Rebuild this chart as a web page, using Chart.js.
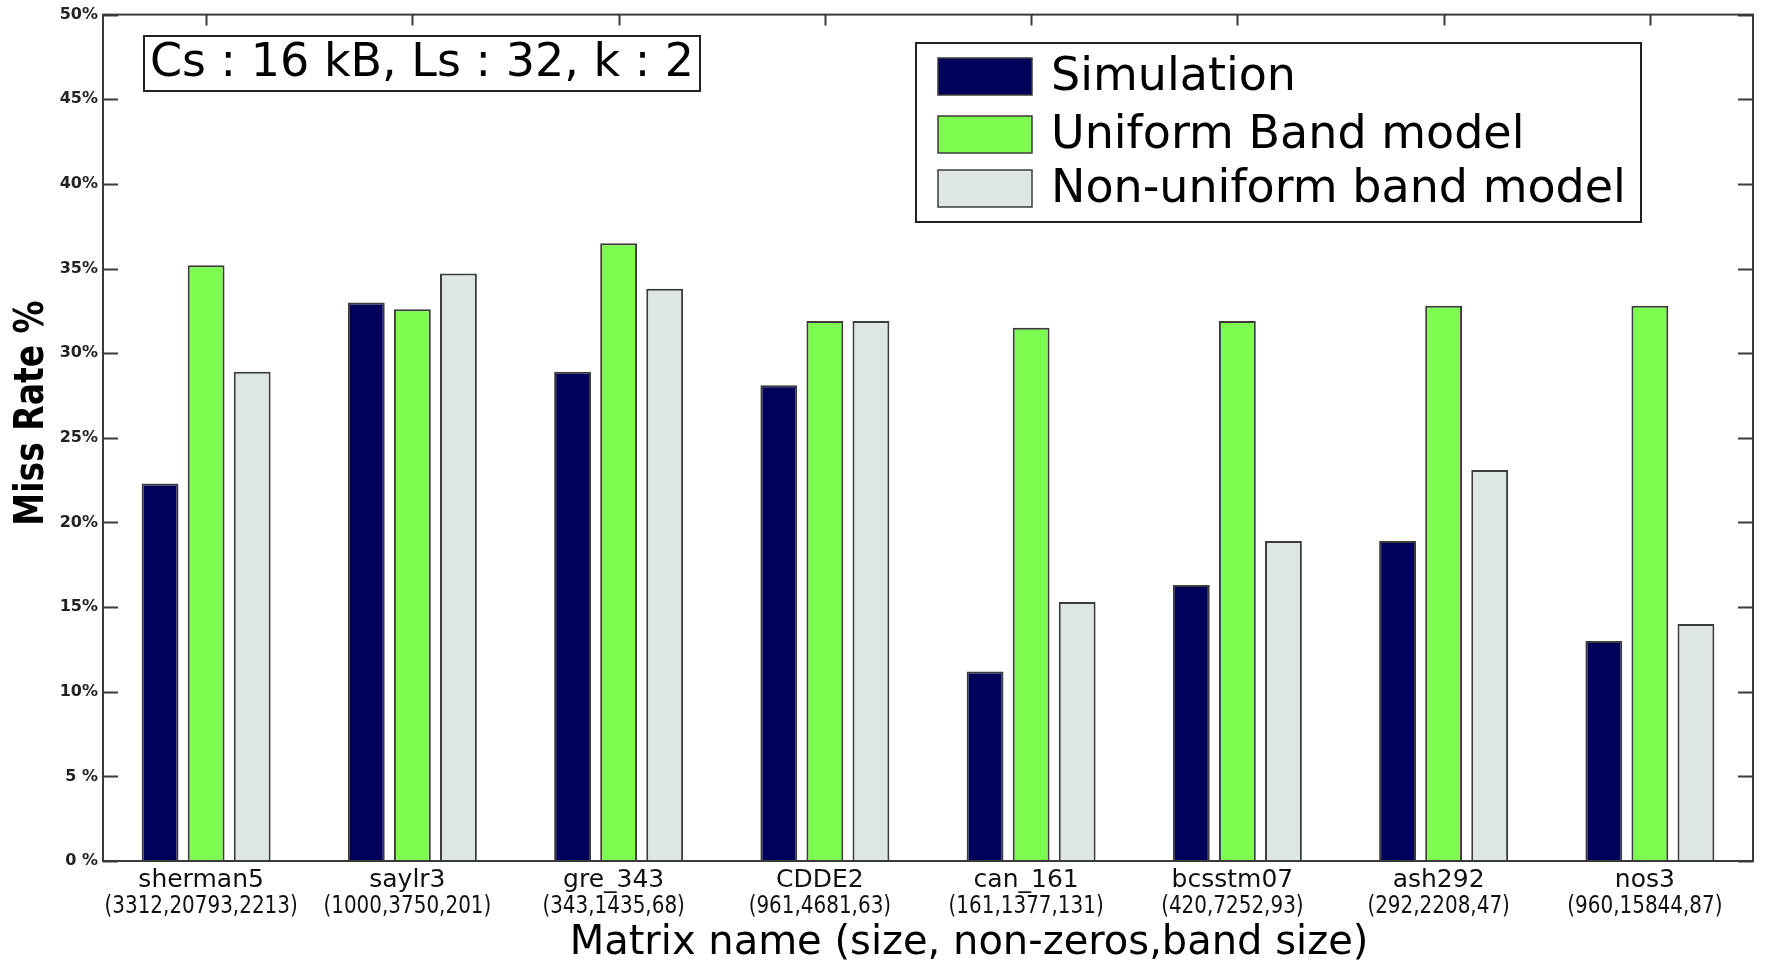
<!DOCTYPE html>
<html>
<head>
<meta charset="utf-8">
<script src="https://cdn.jsdelivr.net/npm/chart.js@4.4.1/dist/chart.umd.min.js"></script>
<style>
  html, body { margin: 0; background: #fff; }
  #wrap { width: 1783px; height: 960px; }
</style>
</head>
<body>
<div id="wrap"><canvas id="c"></canvas></div>
<script>
// values (miss rate, %)
const matrices = ["sherman5", "saylr3", "gre_343", "CDDE2", "can_161", "bcsstm07", "ash292", "nos3"];
const matrixInfo = ["(3312,20793,2213)", "(1000,3750,201)", "(343,1435,68)", "(961,4681,63)",
  "(161,1377,131)", "(420,7252,93)", "(292,2208,47)", "(960,15844,87)"];
const simulation = [22.3, 33.0, 28.9, 28.1, 11.2, 16.3, 18.9, 13.0];
const uniformBand = [35.2, 32.6, 36.5, 31.9, 31.5, 31.9, 32.8, 32.8];
const nonUniformBand = [28.9, 34.7, 33.8, 31.9, 15.3, 18.9, 23.1, 14.0];
const yTickLabels = ["0 %", "5 %", "10%", "15%", "20%", "25%", "30%", "35%", "40%", "45%", "50%"];
const annotationText = "Cs : 16 kB, Ls : 32, k : 2";
const xTitle = "Matrix name (size, non-zeros,band size)";
const yTitle = "Miss Rate %";

const AXIS = "#3a3a3a";
const EDGE = "#3c3c3c";
const FONT = "'DejaVu Sans'";

// frame, inward ticks, axis texts, the parameter box and the legend box (matlab look)
const decor = {
  id: "decor",
  afterDatasetsDraw(chart) {
    const { ctx, chartArea: a, scales } = chart;
    ctx.save();
    ctx.strokeStyle = AXIS;
    ctx.lineWidth = 2;
    ctx.beginPath();
    scales.y.ticks.forEach((t) => {
      const y = Math.round(scales.y.getPixelForValue(t.value)) + 0.5;
      ctx.moveTo(a.left, y); ctx.lineTo(a.left + 15, y);
      ctx.moveTo(a.right, y); ctx.lineTo(a.right - 15, y);
    });
    matrices.forEach((m, i) => {
      const x = Math.round(scales.x.getPixelForValue(i)) + 0.5;
      ctx.moveTo(x, a.top); ctx.lineTo(x, a.top + 11);
    });
    ctx.stroke();
    ctx.strokeRect(a.left, a.top, a.right - a.left, a.bottom - a.top);

    // category labels, two lines each
    ctx.fillStyle = "#111";
    ctx.textAlign = "center";
    ctx.textBaseline = "alphabetic";
    matrices.forEach((m, i) => {
      const x = scales.x.getPixelForValue(i) - 5;
      ctx.font = "25px " + FONT;
      ctx.fillText(m, x, a.bottom + 26);
      ctx.save();
      ctx.translate(x, a.bottom + 52);
      ctx.scale(0.95, 1.18);
      ctx.font = "21px " + FONT;
      ctx.fillText(matrixInfo[i], 0, 0);
      ctx.restore();
    });

    // axis titles
    ctx.fillStyle = "#000";
    ctx.font = "40px " + FONT;
    ctx.fillText(xTitle, 969, 954);
    ctx.save();
    ctx.translate(43, 413);
    ctx.rotate(-Math.PI / 2);
    ctx.scale(0.825, 1);
    ctx.font = "bold 40px " + FONT;
    ctx.fillText(yTitle, 0, 0);
    ctx.restore();

    // parameter box
    ctx.font = "46px " + FONT;
    ctx.textBaseline = "middle";
    ctx.fillStyle = "#fff";
    ctx.fillRect(144, 36, 556, 55);
    ctx.strokeStyle = "#222";
    ctx.strokeRect(144, 36, 556, 55);
    ctx.fillStyle = "#000";
    ctx.fillText(annotationText, 422, 64);

    // legend
    ctx.fillStyle = "#fff";
    ctx.fillRect(916, 43, 725, 179);
    ctx.strokeRect(916, 43, 725, 179);
    ctx.textAlign = "left";
    const rows = [76, 134, 188];
    chart.data.datasets.forEach((ds, i) => {
      ctx.fillStyle = ds.backgroundColor;
      ctx.fillRect(938, rows[i] - 18, 94, 37);
      ctx.lineWidth = 1.5;
      ctx.strokeStyle = EDGE;
      ctx.strokeRect(938, rows[i] - 18, 94, 37);
      ctx.fillStyle = "#000";
      ctx.fillText(ds.label, 1051, rows[i] + 2);
    });
    ctx.restore();
  }
};

new Chart(document.getElementById("c"), {
  type: "bar",
  data: {
    labels: matrices,
    datasets: [
      { label: "Simulation", data: simulation, backgroundColor: "#00005a" },
      { label: "Uniform Band model", data: uniformBand, backgroundColor: "#7dfb50" },
      { label: "Non-uniform band model", data: nonUniformBand, backgroundColor: "#dde5e5" }
    ].map((d) => Object.assign(d, { borderColor: EDGE, borderWidth: 2, categoryPercentage: 0.67, barPercentage: 0.8 }))
  },
  options: {
    responsive: true,
    maintainAspectRatio: false,
    animation: false,
    layout: { padding: { top: 14, right: 30, left: 0, bottom: 0 } },
    plugins: { legend: { display: false }, tooltip: { enabled: false } },
    scales: {
      x: {
        grid: { display: false, drawTicks: false },
        border: { display: false },
        ticks: { display: false },
        afterFit: (s) => { s.height = 99; }
      },
      y: {
        min: 0, max: 50,
        grid: { display: false, drawTicks: false },
        border: { display: false },
        ticks: {
          stepSize: 5, padding: 5, color: "#222",
          font: { family: FONT, size: 16, weight: "bold" },
          callback: (v, i) => yTickLabels[i]
        },
        afterFit: (s) => { s.width = 103; }
      }
    }
  },
  plugins: [decor]
});
</script>
</body>
</html>
